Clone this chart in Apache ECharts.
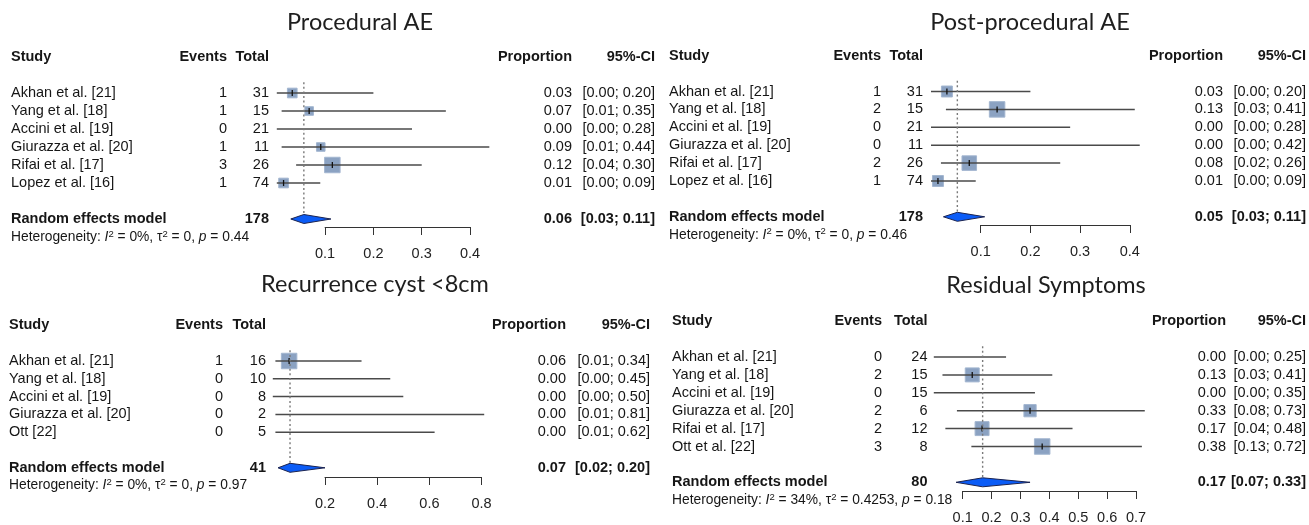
<!DOCTYPE html>
<html><head><meta charset="utf-8">
<script src="https://cdn.jsdelivr.net/npm/echarts@6/dist/echarts.min.js"></script>
<style>html,body{margin:0;padding:0;background:#fff}#c{width:1309px;height:525px}</style>
</head><body><div id="c"></div>
<script>
// ---------- Panel 1: Procedural AE ----------
const p1Title = 'Procedural AE';
const p1Studies = ['Akhan et al. [21]','Yang et al. [18]','Accini et al. [19]','Giurazza et al. [20]','Rifai et al. [17]','Lopez et al. [16]'];
const p1Events = [1,1,0,1,3,1];
const p1Totals = [31,15,21,11,26,74];
const p1Props = [0.032,0.067,0,0.091,0.115,0.014];
const p1Lower = [0.00,0.01,0.00,0.01,0.04,0.00];
const p1Upper = [0.20,0.35,0.28,0.44,0.30,0.09];
const p1Weights = [14,11,0,11,36,14];
const p1PropLabels = ['0.03','0.07','0.00','0.09','0.12','0.01'];
const p1CiLabels = ['[0.00; 0.20]','[0.01; 0.35]','[0.00; 0.28]','[0.01; 0.44]','[0.04; 0.30]','[0.00; 0.09]'];
const p1Summary = [0.056,0.029,0.112];
const p1SummaryLabels = ['0.06','[0.03; 0.11]'];
const p1Total = 178;
const p1Het = ['0%','0','0.44'];
const p1Ticks = [0.1,0.2,0.3,0.4];

// ---------- Panel 2: Post-procedural AE ----------
const p2Title = 'Post-procedural AE';
const p2Studies = ['Akhan et al. [21]','Yang et al. [18]','Accini et al. [19]','Giurazza et al. [20]','Rifai et al. [17]','Lopez et al. [16]'];
const p2Events = [1,2,0,0,2,1];
const p2Totals = [31,15,21,11,26,74];
const p2Props = [0.032,0.133,0,0,0.077,0.014];
const p2Lower = [0.00,0.03,0.00,0.00,0.02,0.00];
const p2Upper = [0.20,0.41,0.28,0.42,0.26,0.09];
const p2Weights = [17,34,0,0,30,17];
const p2PropLabels = ['0.03','0.13','0.00','0.00','0.08','0.01'];
const p2CiLabels = ['[0.00; 0.20]','[0.03; 0.41]','[0.00; 0.28]','[0.00; 0.42]','[0.02; 0.26]','[0.00; 0.09]'];
const p2Summary = [0.053,0.025,0.108];
const p2SummaryLabels = ['0.05','[0.03; 0.11]'];
const p2Total = 178;
const p2Het = ['0%','0','0.46'];
const p2Ticks = [0.1,0.2,0.3,0.4];

// ---------- Panel 3: Recurrence cyst <8cm ----------
const p3Title = 'Recurrence cyst <8cm';
const p3Studies = ['Akhan et al. [21]','Yang et al. [18]','Accini et al. [19]','Giurazza et al. [20]','Ott [22]'];
const p3Events = [1,0,0,0,0];
const p3Totals = [16,10,8,2,5];
const p3Props = [0.0625,0,0,0,0];
const p3Lower = [0.01,0.00,0.00,0.01,0.01];
const p3Upper = [0.34,0.45,0.50,0.81,0.62];
const p3Weights = [100,0,0,0,0];
const p3PropLabels = ['0.06','0.00','0.00','0.00','0.00'];
const p3CiLabels = ['[0.01; 0.34]','[0.00; 0.45]','[0.00; 0.50]','[0.01; 0.81]','[0.01; 0.62]'];
const p3Summary = [0.066,0.02,0.20];
const p3SummaryLabels = ['0.07','[0.02; 0.20]'];
const p3Total = 41;
const p3Het = ['0%','0','0.97'];
const p3Ticks = [0.2,0.4,0.6,0.8];

// ---------- Panel 4: Residual Symptoms ----------
const p4Title = 'Residual Symptoms';
const p4Studies = ['Akhan et al. [21]','Yang et al. [18]','Accini et al. [19]','Giurazza et al. [20]','Rifai et al. [17]','Ott et al. [22]'];
const p4Events = [0,2,0,2,2,3];
const p4Totals = [24,15,15,6,12,8];
const p4Props = [0,0.133,0,0.333,0.167,0.375];
const p4Lower = [0.00,0.03,0.00,0.08,0.04,0.13];
const p4Upper = [0.25,0.41,0.35,0.73,0.48,0.72];
const p4Weights = [0,26,0,20,26,32];
const p4PropLabels = ['0.00','0.13','0.00','0.33','0.17','0.38'];
const p4CiLabels = ['[0.00; 0.25]','[0.03; 0.41]','[0.00; 0.35]','[0.08; 0.73]','[0.04; 0.48]','[0.13; 0.72]'];
const p4Summary = [0.169,0.077,0.333];
const p4SummaryLabels = ['0.17','[0.07; 0.33]'];
const p4Total = 80;
const p4Het = ['34%','0.4253','0.18'];
const p4Ticks = [0.1,0.2,0.3,0.4,0.5,0.6,0.7];

// ---------- assemble ----------
const panels = [
  {title:p1Title, studies:p1Studies, events:p1Events, totals:p1Totals, props:p1Props, lower:p1Lower, upper:p1Upper, weights:p1Weights, propLabels:p1PropLabels, ciLabels:p1CiLabels, summary:p1Summary, summaryLabels:p1SummaryLabels, total:p1Total, het:p1Het, ticks:p1Ticks},
  {title:p2Title, studies:p2Studies, events:p2Events, totals:p2Totals, props:p2Props, lower:p2Lower, upper:p2Upper, weights:p2Weights, propLabels:p2PropLabels, ciLabels:p2CiLabels, summary:p2Summary, summaryLabels:p2SummaryLabels, total:p2Total, het:p2Het, ticks:p2Ticks},
  {title:p3Title, studies:p3Studies, events:p3Events, totals:p3Totals, props:p3Props, lower:p3Lower, upper:p3Upper, weights:p3Weights, propLabels:p3PropLabels, ciLabels:p3CiLabels, summary:p3Summary, summaryLabels:p3SummaryLabels, total:p3Total, het:p3Het, ticks:p3Ticks},
  {title:p4Title, studies:p4Studies, events:p4Events, totals:p4Totals, props:p4Props, lower:p4Lower, upper:p4Upper, weights:p4Weights, propLabels:p4PropLabels, ciLabels:p4CiLabels, summary:p4Summary, summaryLabels:p4SummaryLabels, total:p4Total, het:p4Het, ticks:p4Ticks}
];

// layout (pixels)
const layouts = [
  {titleX:360, titleY:22, studyX:11, eventsR:227, totalR:269, propR:572, ciR:655, x0:276.8, perUnit:483, r0:93, step:18, axisY:227},
  {titleX:1030, titleY:22, studyX:669, eventsR:881, totalR:923, propR:1223, ciR:1306, x0:931, perUnit:497, r0:91.5, step:17.9, axisY:225},
  {titleX:375, titleY:284, studyX:9, eventsR:223, totalR:266, propR:566, ciR:650, x0:272.8, perUnit:261, r0:361, step:17.8, axisY:477},
  {titleX:1046, titleY:285, studyX:672, eventsR:882, totalR:927.5, propR:1226, ciR:1306, x0:933.8, perUnit:289, r0:357, step:17.9, axisY:491}
];

const FONT = '"Liberation Sans", Arial, Helvetica, sans-serif';
const TXT = '#161616';
const FS = 14.5;
const HFS = 13.8;

function txt(s, x, y, align, bold) {
  return {type:'text', x:x, y:y, style:{text:String(s), fill:TXT,
    font:(bold?'bold ':'')+FS+'px '+FONT, align:align, verticalAlign:'middle',
    textAlign:align, textVerticalAlign:'middle'}};
}

const grids = [], xAxes = [], yAxes = [], series = [], graphics = [];

panels.forEach(function(d, k){
  const L = layouts[k];
  const t0 = d.ticks[0], t1 = d.ticks[d.ticks.length-1];
  const top = L.r0 - 2*L.step;
  grids.push({left:L.x0 + L.perUnit*t0, width:L.perUnit*(t1-t0), top:top, height:L.axisY-top});
  xAxes.push({gridIndex:k, type:'value', min:t0, max:t1, interval:d.ticks[1]-d.ticks[0], position:'bottom',
    axisLine:{show:true, onZero:false, lineStyle:{color:'#333', width:1}},
    axisTick:{show:true, length:8, inside:false, lineStyle:{color:'#333', width:1}},
    axisLabel:{margin:19, fontSize:FS, fontFamily:FONT, color:'#222', formatter:function(v){return v.toFixed(1);}},
    splitLine:{show:false}});
  yAxes.push({gridIndex:k, type:'value', inverse:true, min:-2, max:(L.axisY-L.r0)/L.step, show:false, splitLine:{show:false}});
  const maxW = Math.max.apply(null, d.weights);

  // study rows
  series.push({type:'custom', xAxisIndex:k, yAxisIndex:k, clip:false, silent:true,
    data:d.studies.map(function(s,i){return [d.props[i], i];}),
    renderItem:function(params, api){
      const i = params.dataIndex;
      const y = api.coord([0,i])[1];
      const xl = api.coord([d.lower[i], i])[0];
      const xh = api.coord([d.upper[i], i])[0];
      const xp = api.coord([d.props[i], i])[0];
      const kids = [];
      if (d.weights[i] > 0) {
        const s = 15.5*Math.sqrt(d.weights[i]/maxW);
        kids.push({type:'rect', shape:{x:xp-s/2, y:y-s/2, width:s, height:s}, style:{fill:'#8ba2c2', stroke:'#a3b6d0', lineWidth:1}});
      }
      kids.push({type:'line', shape:{x1:xl, y1:y, x2:xh, y2:y}, style:{stroke:'#4a4a4a', lineWidth:1.5}});
      if (d.weights[i] > 0) {
        kids.push({type:'line', shape:{x1:xp, y1:y-3, x2:xp, y2:y+3}, style:{stroke:'#111', lineWidth:1.3}});
      }
      kids.push(txt(d.studies[i], L.studyX, y, 'left'));
      kids.push(txt(d.events[i], L.eventsR, y, 'right'));
      kids.push(txt(d.totals[i], L.totalR, y, 'right'));
      kids.push(txt(d.propLabels[i], L.propR, y, 'right'));
      kids.push(txt(d.ciLabels[i], L.ciR, y, 'right'));
      return {type:'group', children:kids};
    }});

  // header, summary, heterogeneity
  const n = d.studies.length;
  series.push({type:'custom', xAxisIndex:k, yAxisIndex:k, clip:false, silent:true,
    data:[[d.summary[0], n+1]],
    renderItem:function(params, api){
      const rRE = n + 1;
      const yH = api.coord([0,-2])[1];
      const y = api.coord([0,rRE])[1];
      const yHet = api.coord([0,rRE+1])[1];
      const yTop = api.coord([0,-0.6])[1];
      const xe = api.coord([d.summary[0], rRE])[0];
      const xl = api.coord([d.summary[1], rRE])[0];
      const xh = api.coord([d.summary[2], rRE])[0];
      const h = 4.5;
      const kids = [];
      kids.push({type:'line', shape:{x1:xe, y1:yTop, x2:xe, y2:y}, style:{stroke:'#7a7a7a', lineWidth:1.4, lineDash:[2,2.6]}});
      kids.push({type:'polygon', shape:{points:[[xl,y],[xe,y-h],[xh,y],[xe,y+h]]}, style:{fill:'#0b5cf6', stroke:'#1b2350', lineWidth:1}});
      kids.push(txt('Study', L.studyX, yH, 'left', true));
      kids.push(txt('Events', L.eventsR, yH, 'right', true));
      kids.push(txt('Total', L.totalR, yH, 'right', true));
      kids.push(txt('Proportion', L.propR, yH, 'right', true));
      kids.push(txt('95%-CI', L.ciR, yH, 'right', true));
      kids.push(txt('Random effects model', L.studyX, y, 'left', true));
      kids.push(txt(d.total, L.totalR, y, 'right', true));
      kids.push(txt(d.summaryLabels[0], L.propR, y, 'right', true));
      kids.push(txt(d.summaryLabels[1], L.ciR, y, 'right', true));
      const het = '{a|Heterogeneity: }{i|I}{s|2}{a| = ' + d.het[0] + ', τ}{s|2}{a| = ' + d.het[1] + ', }{i|p}{a| = ' + d.het[2] + '}';
      kids.push({type:'text', x:L.studyX, y:yHet, style:{text:het, fill:TXT, font:HFS+'px '+FONT,
        align:'left', verticalAlign:'middle', textAlign:'left', textVerticalAlign:'middle',
        rich:{
          a:{fontSize:HFS, fontFamily:FONT, fill:TXT, lineHeight:16, verticalAlign:'middle'},
          i:{fontSize:HFS, fontFamily:FONT, fontStyle:'italic', fill:TXT, lineHeight:16, verticalAlign:'middle'},
          s:{fontSize:9.5, fontFamily:FONT, fill:TXT, lineHeight:9, verticalAlign:'top'}
        }}});
      return {type:'group', children:kids};
    }});

  graphics.push({type:'text', x:L.titleX, y:L.titleY, silent:true,
    style:{text:d.title, fill:'#1e1e1e', font:'23.5px Lato, "Open Sans", sans-serif', textAlign:'center', textVerticalAlign:'middle', align:'center', verticalAlign:'middle'}});
});

const chart = echarts.init(document.getElementById('c'), null, {renderer:'canvas'});
chart.setOption({
  animation:false,
  backgroundColor:'#ffffff',
  grid:grids, xAxis:xAxes, yAxis:yAxes, series:series, graphic:graphics
});
</script></body></html>
